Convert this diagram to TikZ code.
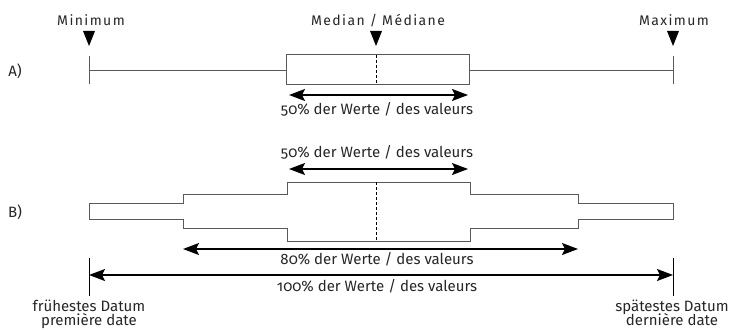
\documentclass[tikz,border=0pt]{standalone}
\usepackage{fontspec}
\setmainfont[Numbers=OldStyle]{Fira Sans}
\newfontfamily\topfont[Numbers=OldStyle, LetterSpace=10]{Fira Sans}
\usetikzlibrary{arrows.meta}
\begin{document}
\begin{tikzpicture}[x=1pt,y=-1pt,
  thinline/.style={draw=black!65, line width=1pt},
  dashline/.style={draw=black, line width=0.9pt, dash pattern=on 3pt off 2pt},
  dimarrow/.style={draw=black, line width=1.6pt,
    {Stealth[length=16pt,width=12pt,inset=3pt]}-{Stealth[length=16pt,width=12pt,inset=3pt]}},
  tickline/.style={draw=black, line width=1pt},
  marker/.style={fill=black, draw=none},
  lbl/.style={font=\fontsize{15}{17}\selectfont, inner sep=0pt, anchor=base, text=black!85},
  toplbl/.style={font=\topfont\fontsize{14}{16}\selectfont, inner sep=0pt, anchor=base, text=black!85},
]
\useasboundingbox (0,0) rectangle (730,329);

% ---------- coordinates ----------
\coordinate (minA) at (89,70);
\coordinate (q1A) at (286,70);
\coordinate (q3A) at (469,70);
\coordinate (maxA) at (673,70);

% ---------- top labels and markers ----------
\node[toplbl] (tmin) at (91,26) {Minimum};
\node[toplbl] (tmed) at (378,26) {Median / Médiane};
\node[toplbl] (tmax) at (674,26) {Maximum};
\fill[marker] (83,31) -- (95,31) -- (89,46) -- cycle;
\fill[marker] (370,31) -- (382,31) -- (376,46) -- cycle;
\fill[marker] (667,31) -- (679,31) -- (673,46) -- cycle;

% ---------- A ----------
\node[lbl] (labA) at (15,76) {A)};
\draw[thinline] (89,56) -- (89,84);
\draw[thinline] (673,56) -- (673,84);
\draw[thinline] (minA) -- (q1A);
\draw[thinline] (q3A) -- (maxA);
\draw[thinline] (286,55) rectangle (469,84);
\draw[dashline] (376,55) -- (376,84);
\coordinate (a50l) at (289,95);
\coordinate (a50r) at (468,95);
\draw[dimarrow] (a50l) -- (a50r);
\node[lbl] (t50A) at (377,114.5) {50\% der Werte / des valeurs};

% ---------- B ----------
\node[lbl] (labB) at (15,217) {B)};
\node[lbl] (t50B) at (377,157) {50\% der Werte / des valeurs};
\coordinate (b50l) at (289,169);
\coordinate (b50r) at (468,169);
\draw[dimarrow] (b50l) -- (b50r);

\draw[thinline] (89,203) -- (183,203) -- (183,194) -- (287,194) -- (287,182)
  -- (470,182) -- (470,194) -- (578,194) -- (578,203) -- (673,203)
  -- (673,219) -- (578,219) -- (578,228) -- (470,228) -- (470,241)
  -- (287,241) -- (287,228) -- (183,228) -- (183,219) -- (89,219) -- cycle;
\draw[dashline] (376,182) -- (376,241);

\coordinate (b80l) at (183,249);
\coordinate (b80r) at (578,249);
\draw[dimarrow] (b80l) -- (b80r);
\node[lbl] (t80) at (377,264) {80\% der Werte / des valeurs};

\draw[tickline] (89,258) -- (89,296);
\draw[tickline] (673,258) -- (673,296);
\coordinate (b100l) at (89,275);
\coordinate (b100r) at (673,275);
\draw[dimarrow] (b100l) -- (b100r);
\node[lbl] (t100) at (377,291) {100\% der Werte / des valeurs};

\node[lbl] (tfr1) at (89,311) {frühestes Datum};
\node[lbl] (tfr2) at (89,325) {première date};
\node[lbl] (tsp1) at (672,311) {spätestes Datum};
\node[lbl] (tsp2) at (672,325) {dernière date};
\end{tikzpicture}
\end{document}
